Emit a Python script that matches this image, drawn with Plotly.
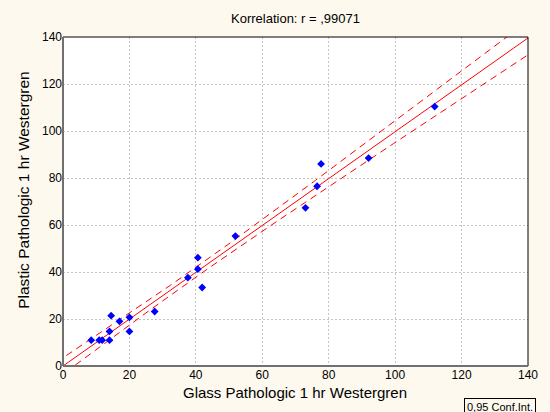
import numpy as np
import plotly.graph_objects as go

glass = [8.5, 10.9, 11.8, 14.0, 14.0, 14.5, 17.0, 20.0, 20.0, 27.6, 37.6,
         40.6, 40.6, 41.9, 51.9, 73.0, 76.5, 77.7, 92.0, 111.9]
plastic = [11.0, 11.0, 11.0, 11.0, 14.7, 21.4, 19.0, 20.7, 14.7, 23.2, 37.6,
           46.1, 41.2, 33.4, 55.3, 67.3, 76.5, 86.0, 88.5, 110.4]

# regression line
fit_intercept = 0.0
fit_slope = 0.997

title_text = "Korrelation: r = ,99071"
x_title = "Glass Pathologic 1 hr Westergren"
y_title = "Plastic Pathologic 1 hr Westergren"
legend_text = "0,95 Conf.Int."

x = np.array(glass)
y = np.array(plastic)
n = len(x)
resid = y - (fit_intercept + fit_slope * x)
s = np.sqrt(np.sum(resid**2) / (n - 2))
xm = x.mean()
sxx = np.sum((x - xm) ** 2)
tcrit = 2.101
xs = np.linspace(-5, 145, 301)
yfit = fit_intercept + fit_slope * xs
se = s * np.sqrt(1.0 / n + (xs - xm) ** 2 / sxx)

fig = go.Figure()
fig.add_trace(go.Scatter(x=xs, y=yfit, mode="lines",
                         line=dict(color="#ff0000", width=1), showlegend=False))
fig.add_trace(go.Scatter(x=xs, y=yfit + tcrit * se, mode="lines",
                         line=dict(color="#ff0000", width=1, dash="7px,5px"), showlegend=False))
fig.add_trace(go.Scatter(x=xs, y=yfit - tcrit * se, mode="lines",
                         line=dict(color="#ff0000", width=1, dash="7px,5px"), showlegend=False))
fig.add_trace(go.Scatter(x=glass, y=plastic, mode="markers",
                         marker=dict(symbol="diamond", size=6, color="#0000ff"),
                         showlegend=False))

font = "Liberation Sans, Arial, sans-serif"
W, H = 550, 412
L, R, T, B = 63, 13, 37, 46
pw, ph = W - L - R, H - T - B


def px(xp):
    return (xp - L) / pw


def py(yp):
    return (H - B - yp) / ph


fig.update_layout(
    width=W, height=H,
    margin=dict(l=L, r=R, t=T, b=B),
    paper_bgcolor="#fdf9ef",
    plot_bgcolor="#ffffff",
    font=dict(family=font, size=12, color="#000000"),
    title=dict(text=title_text, x=0.5, xref="paper", y=1 - 18 / H, yanchor="middle",
               font=dict(size=13, family=font)),
    xaxis=dict(range=[0, 140], dtick=20, showgrid=True, gridcolor="#c4c4c4",
               griddash="2px,2px", gridwidth=1, zeroline=False, showline=False,
               ticks="", tickfont=dict(size=12)),
    yaxis=dict(range=[0, 140], dtick=20, showgrid=True, gridcolor="#c4c4c4",
               griddash="2px,2px", gridwidth=1, zeroline=False, showline=False,
               ticks="", tickfont=dict(size=12)),
    shapes=[
        dict(type="line", xref="paper", yref="paper", x0=0, x1=1, y0=1, y1=1,
             line=dict(color="#000000", width=1)),
        dict(type="line", xref="paper", yref="paper", x0=1, x1=1, y0=0, y1=1,
             line=dict(color="#000000", width=1)),
        dict(type="line", xref="paper", yref="paper", x0=0, x1=1, y0=0, y1=0,
             line=dict(color="#707070", width=2)),
        dict(type="line", xref="paper", yref="paper", x0=0, x1=0, y0=0, y1=1,
             line=dict(color="#707070", width=2)),
    ],
    annotations=[
        dict(text=x_title, xref="paper", yref="paper", x=px(299), y=py(392),
             xanchor="center", yanchor="middle", showarrow=False,
             font=dict(size=15)),
        dict(text=y_title, xref="paper", yref="paper", x=px(22), y=py(190),
             xanchor="center", yanchor="middle", showarrow=False, textangle=-90,
             font=dict(size=15.5)),
        dict(text=legend_text, xref="paper", yref="paper", x=px(472), y=py(398),
             xanchor="left", yanchor="top", showarrow=False,
             font=dict(size=11), bordercolor="#000000", borderwidth=1,
             borderpad=2, bgcolor="#fdf9ef"),
    ],
)

fig.write_html("out.html")
